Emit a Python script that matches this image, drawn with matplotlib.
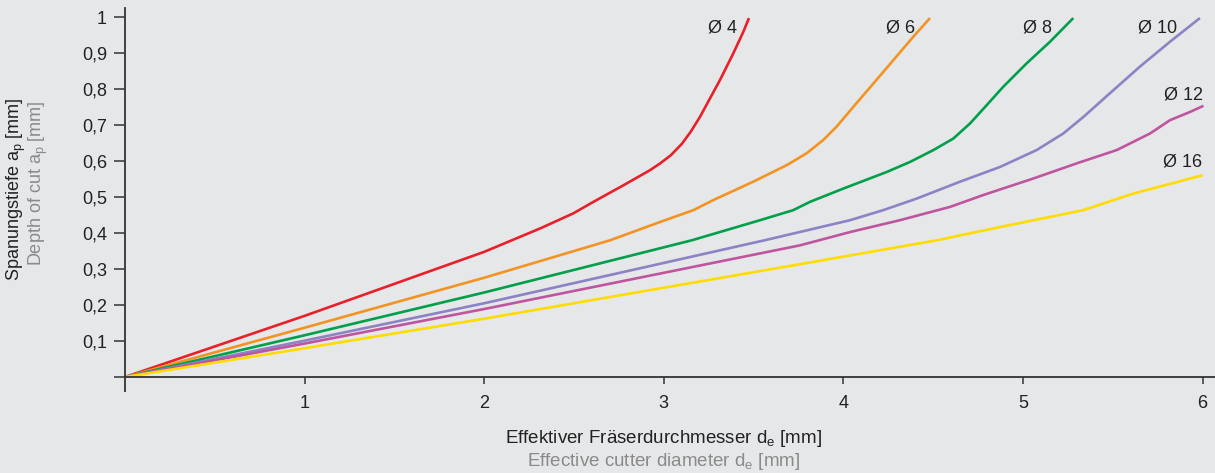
import matplotlib
matplotlib.use("Agg")
import matplotlib.pyplot as plt
from matplotlib.ticker import FixedLocator

plt.rcParams['font.family'] = ['Liberation Sans', 'DejaVu Sans']
plt.rcParams['mathtext.default'] = 'regular'

# ---- data (effective cutter diameter d_e [mm] vs depth of cut a_p [mm]) ----
d4 = [0, 1.0, 2.0, 2.311, 2.496, 2.608, 2.775, 2.923, 2.98, 3.04, 3.10, 3.15, 3.20, 3.25, 3.313, 3.387, 3.443, 3.474]
ap4 = [0, 0.170, 0.348, 0.413, 0.455, 0.487, 0.533, 0.575, 0.594, 0.617, 0.648, 0.682, 0.722, 0.768, 0.826, 0.900, 0.960, 0.998]

d6 = [0, 1.0, 2.0, 2.7, 2.979, 3.165, 3.276, 3.498, 3.684, 3.795, 3.888, 3.962, 4.055, 4.167, 4.278, 4.389, 4.482]
ap6 = [0, 0.137, 0.276, 0.380, 0.431, 0.464, 0.492, 0.543, 0.589, 0.622, 0.659, 0.696, 0.751, 0.816, 0.881, 0.946, 0.998]

d8 = [0, 1.0, 2.0, 3.155, 3.536, 3.721, 3.814, 4.0, 4.241, 4.371, 4.501, 4.612, 4.705, 4.798, 4.890, 5.020, 5.150, 5.280]
ap8 = [0, 0.116, 0.235, 0.380, 0.436, 0.464, 0.487, 0.524, 0.570, 0.598, 0.631, 0.663, 0.705, 0.756, 0.807, 0.872, 0.932, 0.998]

d10 = [0, 1.0, 2.0, 3.56, 4.037, 4.222, 4.408, 4.649, 4.872, 5.076, 5.224, 5.336, 5.484, 5.651, 5.818, 5.985]
ap10 = [0, 0.101, 0.205, 0.380, 0.436, 0.464, 0.496, 0.543, 0.584, 0.631, 0.677, 0.723, 0.789, 0.863, 0.932, 0.998]

d12 = [0, 1.0, 2.0, 3.758, 4.037, 4.315, 4.594, 4.779, 5.058, 5.299, 5.522, 5.707, 5.818, 5.930, 6.005]
ap12 = [0, 0.093, 0.189, 0.366, 0.403, 0.436, 0.473, 0.506, 0.552, 0.594, 0.631, 0.677, 0.714, 0.737, 0.754]

d16 = [0, 1.0, 2.0, 3.758, 4.519, 4.872, 5.336, 5.614, 6.0]
ap16 = [0, 0.080, 0.162, 0.3136, 0.380, 0.417, 0.464, 0.510, 0.561]

series = [
    ("Ø 4", d4, ap4, "#e8202a"),
    ("Ø 6", d6, ap6, "#f39322"),
    ("Ø 8", d8, ap8, "#00a04b"),
    ("Ø 10", d10, ap10, "#8b83c4"),
    ("Ø 12", d12, ap12, "#c0559f"),
    ("Ø 16", d16, ap16, "#ffdc00"),
]

# label anchor (right edge, vertical center) in data coordinates
label_pos = {
    "Ø 4": (3.41, 0.970),
    "Ø 6": (4.40, 0.970),
    "Ø 8": (5.16, 0.970),
    "Ø 10": (5.86, 0.970),
    "Ø 12": (6.0, 0.784),
    "Ø 16": (6.0, 0.597),
}

x_ticks = [1, 2, 3, 4, 5, 6]
y_ticks = [0, 0.1, 0.2, 0.3, 0.4, 0.5, 0.6, 0.7, 0.8, 0.9, 1.0]
y_tick_labels = ["", "0,1", "0,2", "0,3", "0,4", "0,5", "0,6", "0,7", "0,8", "0,9", "1"]

bg = "#e6e7e9"
dark = "#222222"
grey = "#8a8a8a"

fig = plt.figure(figsize=(12.15, 4.73), dpi=100, facecolor=bg)
ax = fig.add_axes([125 / 1215, 96 / 473, 1 - 125 / 1215, (377 - 8) / 473])
ax.set_facecolor(bg)

for name, xs, ys, c in series:
    ax.plot(xs, ys, color=c, lw=1.9, solid_capstyle='butt', solid_joinstyle='round', zorder=3)
for name, xs, ys, c in series:
    px, py = label_pos[name]
    ax.text(px, py, name, ha='right', va='center', fontsize=13, color=dark)

ax.set_xlim(0, 6.069)
ax.set_ylim(0, 1.026)

for s in ['top', 'right']:
    ax.spines[s].set_visible(False)
for s in ['left', 'bottom']:
    ax.spines[s].set_color('#333333')
    ax.spines[s].set_linewidth(1.3)
    ax.spines[s].set_zorder(4)

ax.xaxis.set_major_locator(FixedLocator(x_ticks))
ax.xaxis.set_minor_locator(FixedLocator([0]))
ax.set_xticklabels([str(v) for v in x_ticks])
ax.tick_params(axis='x', which='major', direction='out', length=5, width=1.1,
               color='#333333', labelsize=13, labelcolor=dark, pad=8)
ax.tick_params(axis='x', which='minor', direction='out', length=11, width=1.3,
               color='#333333')

ax.yaxis.set_major_locator(FixedLocator(y_ticks))
ax.set_yticklabels(y_tick_labels)
ax.tick_params(axis='y', which='major', direction='out', length=8, width=1.1,
               color='#333333', labelsize=13, labelcolor=dark, pad=5)

# axis titles (two-language)
fig.text(664 / 1215, 1 - 438 / 473, "Effektiver Fräserdurchmesser d$_e$ [mm]",
         ha='center', va='center', fontsize=13.5, color=dark)
fig.text(664 / 1215, 1 - 461 / 473, "Effective cutter diameter d$_e$ [mm]",
         ha='center', va='center', fontsize=13.5, color=grey)
fig.text(16 / 1215, 1 - 189 / 473, "Spanungstiefe a$_p$ [mm]",
         ha='center', va='center', rotation=90, fontsize=13, color=dark)
fig.text(38 / 1215, 1 - 183 / 473, "Depth of cut a$_p$ [mm]",
         ha='center', va='center', rotation=90, fontsize=13, color=grey)

fig.savefig("out.png", dpi=100, facecolor=bg)
